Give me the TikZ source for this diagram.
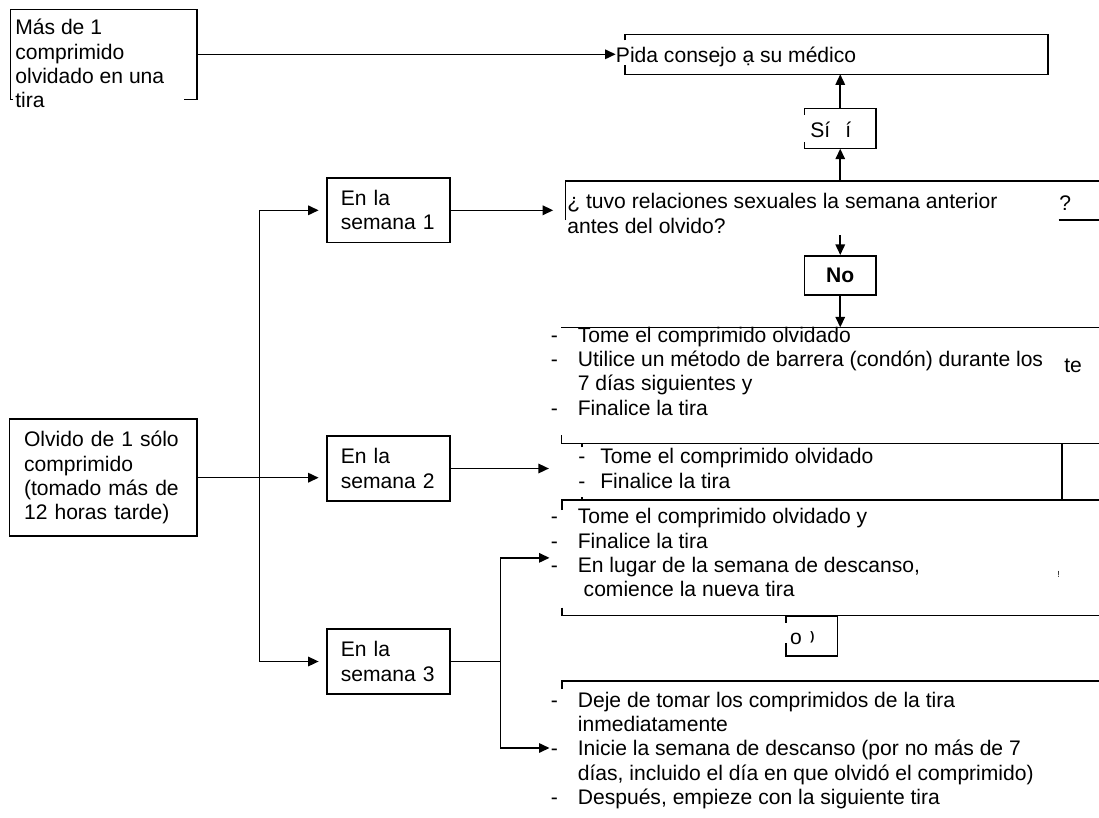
\documentclass[tikz,border=0pt]{standalone}
\usepackage{fontspec}
\setmainfont{Liberation Sans}
\usepackage{tikz}
\usetikzlibrary{arrows.meta,fit}

\tikzset{
  caja/.style={draw, line width=0.9pt, inner sep=0pt, align=left},
  semana/.style={caja, minimum width=2.46cm, minimum height=1.29cm, text width=1.9cm, inner xsep=0.28cm},
  marco/.style={inner sep=0pt, outer sep=0pt, draw=none},
  borde/.style={line width=0.9pt},
  flecha/.style={line width=0.9pt, -{Triangle[length=0.21cm,width=0.19cm]}},
  texto/.style={inner sep=0pt, align=left, anchor=north west, execute at begin node=\strut},
}
\newcommand{\guion}{\makebox[0.54cm][l]{-}}

\begin{document}
\begin{tikzpicture}[x=0.02cm, y=-0.02cm, font=\fontsize{12}{13.8}\selectfont]
            \useasboundingbox (0,0) rectangle (1099,818);

            % Mas de 1 comprimido
            \node[marco, fit={(10.5,9.3) (197,99.3)}] (mas) {};
            \draw[borde] ([shift={(2.5,0)}]mas.south west) -- (mas.south west) -- (mas.north west) -- (mas.north east) -- (mas.south east) -- ([shift={(-13,0)}]mas.south east);
            \node[texto] (masT) at (15,19) {Más de 1\\comprimido\\olvidado en una\\tira};

            % Pida consejo
            \node[marco, fit={(625,34.3) (1048,74.3)}] (pida) {};
            \draw[borde] ([shift={(0,6)}]pida.north west) -- (pida.north west) -- (pida.north east) -- (pida.south east) -- (pida.south west) -- ([shift={(0,-9)}]pida.south west);
            \node[texto] (pidaT) at (615.6,45) {Pida consejo ạ su médico};
            \draw[flecha] (mas.east) -- (mas.east -| pidaT.west);

            % Si
            \node[marco, fit={(804.5,108.7) (876,148.7)}] (si) {};
            \draw[borde] ([shift={(0,6)}]si.north west) -- (si.north west) -- (si.north east) -- (si.south east) -- (si.south west) -- ([shift={(0,-7)}]si.south west);
            \node[texto] (siT) at (810,120) {Sí\hspace{0.3cm}í};
            \draw[flecha] (si.north) -- (si.north |- pida.south);

            % Pregunta
            \node[marco, fit={(565.7,181) (1099,235)}] (preg) {};
            \draw[borde] ([shift={(0,39)}]preg.north west) -- (preg.north west) -- (preg.north east);
            \node[texto] (pregT) at (567,193.3) {¿ tuvo relaciones sexuales la semana anterior\\antes del olvido?};
            \node[texto] (interr) at (1059,193.3) {?};
            \draw[borde] (1058.7,220) -- (1099,220);
            \draw[flecha] (si.south |- preg.north) -- (si.south);

            % No
            \node[caja, minimum width=1.43cm, minimum height=0.79cm, font=\fontsize{12}{13.8}\selectfont\bfseries] (no) at (840.25,275.5) {No};
            \draw[flecha] (no.north |- preg.south) -- (no.north);

            % Semana 1: caja A
            \node[marco, fit={(561.4,327.3) (1099,443.3)}] (cajaA) {};
            \draw[borde] (cajaA.north west) -- (cajaA.north east);
            \draw[borde] ([shift={(0,-8)}]cajaA.south west) -- (cajaA.south west) -- (cajaA.south east);
            \node[texto] (listaA) at (550.5,326.7) {\guion Tome el comprimido olvidado\\\guion Utilice un método de barrera (condón) durante los\\\hspace*{0.54cm}7 días siguientes y\\\guion Finalice la tira};
            \node[texto] (te) at (1064,355) {te};
            \draw[flecha] (no.south) -- (no.south |- cajaA.north);

            % Semana 2: caja B
            \node[marco, fit={(582,443.3) (1062,500)}] (cajaB) {};
            \draw[borde] (cajaB.north east) -- (cajaB.south east);
            \draw[borde] ([shift={(0,4)}]cajaB.north west) -- (cajaB.north west);
            \draw[borde] ([shift={(0,-3)}]cajaB.south west) -- (cajaB.south west);
            \node[texto] (listaB) at (578,448.3) {\makebox[0.44cm][l]{-}Tome el comprimido olvidado\\\makebox[0.44cm][l]{-}Finalice la tira};

            % Semana 3: caja C
            \node[marco, fit={(562,500) (1099,615.7)}] (cajaC) {};
            \draw[borde] ([shift={(0,10)}]cajaC.north west) -- (cajaC.north west) -- (cajaC.north east);
            \draw[borde] ([shift={(0,-8)}]cajaC.south west) -- (cajaC.south west) -- (cajaC.south east);
            \node[texto] (listaC) at (550.5,508.3) {\guion Tome el comprimido olvidado y\\\guion Finalice la tira\\\guion En lugar de la semana de descanso,\\\hspace*{0.54cm} comience la nueva tira};
            \node[texto, font=\tiny] (marca) at (1057,570) {!};

            % Caja pequena
            \node[marco, fit={(786,616.7) (837.7,656)}] (cajaO) {};
            \draw[borde] ([shift={(0,6)}]cajaO.north west) -- (cajaO.north west) -- (cajaO.north east) -- (cajaO.south east) -- (cajaO.south west) -- ([shift={(0,-13)}]cajaO.south west);
            \node[texto] (oT) at (789.7,626.7) {o};
            \node[texto, font=\scriptsize\bfseries] (parT) at (810,630) {)};

            % Semana 3: caja D
            \node[marco, fit={(562,681) (1099,815)}] (cajaD) {};
            \draw[borde] ([shift={(0,8)}]cajaD.north west) -- (cajaD.north west) -- (cajaD.north east);
            \node[texto] (listaD) at (550.5,691.7) {\guion Deje de tomar los comprimidos de la tira\\\hspace*{0.54cm}inmediatamente\\\guion Inicie la semana de descanso (por no más de 7\\\hspace*{0.54cm}días, incluido el día en que olvidó el comprimido)\\\guion Después, empieze con la siguiente tira};

            % Olvido y semanas
            \node[caja, minimum width=3.75cm, minimum height=2.34cm, text width=3.17cm, inner xsep=0.29cm] (olvido) at (103.3,477.7) {Olvido de 1 sólo\\comprimido\\(tomado más de\\12 horas tarde)};
            \node[semana] (sem1) at (388.4,210.3) {En la\\semana 1};
            \node[semana] (sem2) at (388.4,468.5) {En la\\semana 2};
            \node[semana] (sem3) at (388.4,661.5) {En la\\semana 3};

            % Conectores
            \coordinate (reparto) at (259.6,477.7);
            \draw[flecha, shorten >=0.15cm] (olvido.east) -- (olvido.east -| sem2.west);
            \draw[flecha, shorten >=0.15cm] (reparto) |- (sem1.west);
            \draw[flecha, shorten >=0.15cm] (reparto) |- (sem3.west);
            \draw[flecha, shorten >=0.25cm] (sem1.east) -- (sem1.east -| preg.west);
            \draw[flecha, shorten >=0.25cm] (sem2.east) -- (sem2.east -| cajaA.west);
            \coordinate (nudo) at ([xshift=1cm]sem3.east);
            \draw[borde] (sem3.east) -- (nudo);
            \draw[flecha, shorten >=0.25cm] (nudo) |- (cajaC.west);
            \draw[flecha, shorten >=0.25cm] (nudo) |- (cajaD.west);
\end{tikzpicture}
\end{document}
